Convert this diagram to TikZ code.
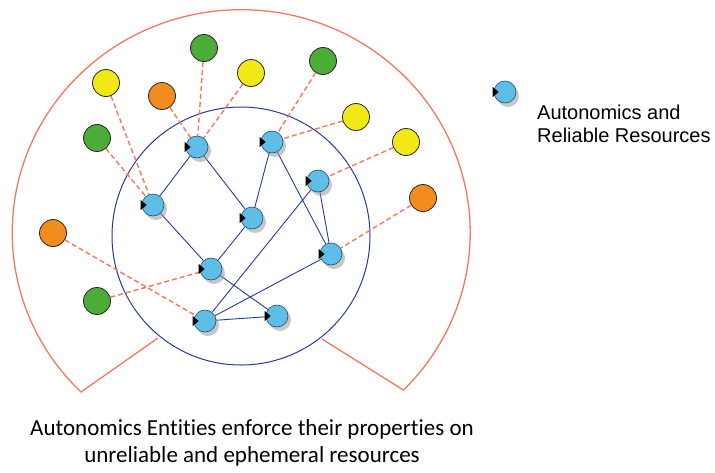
\documentclass[tikz,border=0pt]{standalone}
\usepackage{fontspec}
\setmainfont{Liberation Sans}
\newfontfamily\captionfont[Ligatures=NoCommon]{Carlito}
\usetikzlibrary{backgrounds,calc,shadows}
\definecolor{agentblue}{RGB}{95,190,232}
\definecolor{agentrim}{RGB}{30,80,110}
\definecolor{linkblue}{RGB}{40,60,150}
\definecolor{rimred}{RGB}{246,118,96}
\definecolor{resgreen}{RGB}{76,172,56}
\definecolor{resyellow}{RGB}{242,232,22}
\definecolor{resorange}{RGB}{242,140,28}
\tikzset{
  agent/.style={circle,draw=agentrim,fill=agentblue,line width=.6pt,
    minimum size=22pt,inner sep=0pt,
    drop shadow={shadow xshift=3pt,shadow yshift=-4pt,fill=black!40,opacity=.55}},
  resource/.style={circle,draw=black!85,line width=.8pt,minimum size=27pt,inner sep=0pt},
  agent link/.style={draw=linkblue,line width=.9pt},
  lease link/.style={draw=rimred,line width=1.4pt,dash pattern=on 5pt off 3pt},
  rim/.style={draw=rimred,line width=1.3pt}
}
\newcommand{\NodeMark}[1]{\fill ($(#1.west)+(-1,-5)$) -- ++(0,10) -- ++(6,-5) -- cycle;}

\begin{document}
\begin{tikzpicture}[x=1pt,y=-1pt,line cap=round,line join=round]
  \useasboundingbox (0,0) rectangle (715,472);
  \coordinate (rimL) at (81,392);
  \coordinate (cutL) at (158,338);
  \coordinate (cutR) at (322,339);
  \coordinate (core) at (241,236);

  % autonomic entities
  \node[agent] (b1) at (197,147) {};
  \node[agent] (b2) at (272,142) {};
  \node[agent] (b3) at (318,181) {};
  \node[agent] (b4) at (153,205) {};
  \node[agent] (b5) at (252,218) {};
  \node[agent] (b6) at (331,254) {};
  \node[agent] (b7) at (211,269) {};
  \node[agent] (b8) at (205,321) {};
  \node[agent] (b9) at (277,316) {};
  \node[agent] (key) at (505,92) {};
  \foreach \p in {b1,b2,b3,b4,b5,b6,b7,b8,b9,key} {\NodeMark{\p}}

  % ephemeral resources
  \node[resource,fill=resgreen]  (g1) at (204,48) {};
  \node[resource,fill=resgreen]  (g2) at (323,61) {};
  \node[resource,fill=resgreen]  (g3) at (97,138) {};
  \node[resource,fill=resgreen]  (g4) at (97,301) {};
  \node[resource,fill=resyellow] (y1) at (106,83) {};
  \node[resource,fill=resyellow] (y2) at (251,73) {};
  \node[resource,fill=resyellow] (y3) at (356,117) {};
  \node[resource,fill=resyellow] (y4) at (406,142) {};
  \node[resource,fill=resorange] (o1) at (162,96) {};
  \node[resource,fill=resorange] (o2) at (423,198) {};
  \node[resource,fill=resorange] (o3) at (53,233) {};

  \begin{scope}[on background layer]
    \draw[rim] (cutL) -- (rimL)
      arc[start angle=134.4,end angle=404.9,x radius=229,y radius=223] -- (cutR);
    \draw[agent link,line width=1pt] (core) circle[radius=129];
    \draw[lease link] (g1)--(b1) (o1)--(b1) (y2)--(b1)
          (g2)--(b2) (y3)--(b2) (y4)--(b3) (o2)--(b6)
          (y1)--(b4) (g3)--(b4) (o3)--(b8) (g4)--(b7);
    \draw[agent link] (b1)--(b4) (b1)--(b5) (b2)--(b5) (b2)--(b6)
          (b3)--(b6) (b3)--(b8) (b4)--(b7) (b5)--(b7)
          (b7)--(b9) (b8)--(b6) (b8)--(b9);
  \end{scope}

  \node[anchor=base west,align=left,inner sep=0pt,
        font=\fontsize{20}{23}\selectfont] (keytext) at (537,142)
        {Autonomics and\\Reliable Resources};
  \node[anchor=base,align=center,inner sep=0pt,
        font=\captionfont\fontsize{23}{27}\selectfont] (caption) at (252,462)
        {Autonomics Entities enforce their properties on\\unreliable and ephemeral resources};
\end{tikzpicture}
\end{document}
